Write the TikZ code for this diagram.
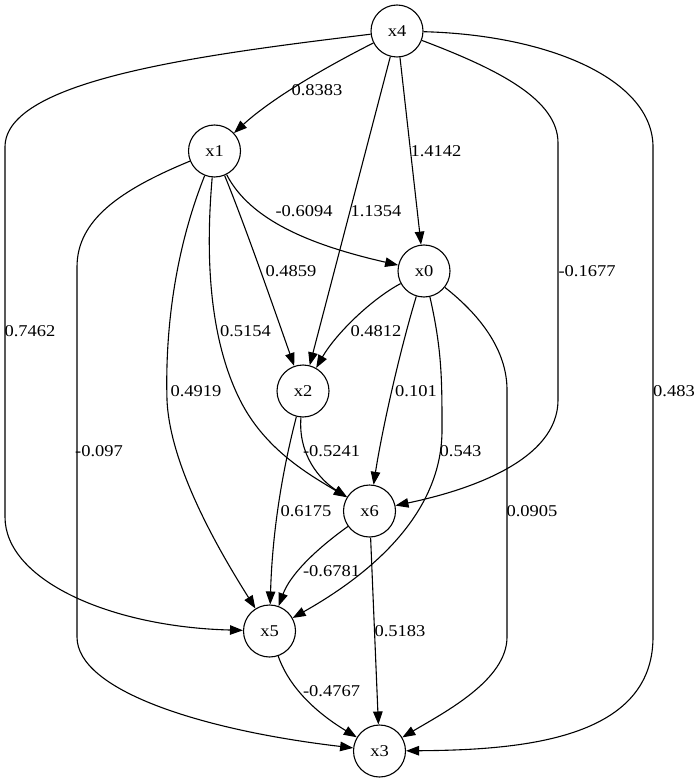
\documentclass[tikz,border=0pt]{standalone}
\usepackage{fontspec}
\setmainfont{Liberation Serif}[FakeStretch=1.12]
\usetikzlibrary{arrows.meta}
\begin{document}
\begin{tikzpicture}[x=1pt,y=-1pt,
  var/.style={circle,draw,line width=1.1pt,minimum size=52pt,inner sep=0pt,
              font=\fontsize{16.5}{18}\selectfont},
  wt/.style={inner sep=0pt,font=\fontsize{16.5}{18}\selectfont},
  link/.style={line width=1.1pt,-{Triangle[length=13pt,width=9.5pt]}}]
\useasboundingbox (0,0) rectangle (700,783);

% variables
\node[var] (x4) at (397,31)    {x4};
\node[var] (x1) at (214.5,151) {x1};
\node[var] (x0) at (424,271)   {x0};
\node[var] (x2) at (303,391)   {x2};
\node[var] (x6) at (369.5,511) {x6};
\node[var] (x5) at (269.5,631) {x5};
\node[var] (x3) at (379.5,751) {x3};

% edges out of x4
\draw[link] (x4) .. controls (320,70) and (270,100) .. (x1);
\draw[link] (x4) -- (x0);
\draw[link] (x4) -- (x2);
\draw[link] (x4) .. controls (500,70) and (558,100) .. (558,143)
            -- (558,400) .. controls (558,460) and (470,490) .. (x6);
\draw[link] (x4) .. controls (200,55) and (5,80) .. (5,147)
            -- (5,517) .. controls (5,580) and (110,627) .. (x5);
\draw[link] (x4) .. controls (550,35) and (653,80) .. (653,147)
            -- (653,637) .. controls (653,740) and (520,750) .. (x3);

% edges out of x1
\draw[link] (x1) .. controls (250,220) and (310,245) .. (x0);
\draw[link] (x1) .. controls (245,225) and (278,320) .. (x2);
\draw[link] (x1) .. controls (205,260) and (210,340) .. (240,400)
            .. controls (265,450) and (310,475) .. (x6);
\draw[link] (x1) .. controls (175,250) and (165,330) .. (167,400)
            .. controls (170,470) and (225,560) .. (x5);
\draw[link] (x1) .. controls (120,190) and (77,220) .. (77,267)
            -- (77,637) .. controls (77,690) and (200,730) .. (x3);

% edges out of x0
\draw[link] (x0) .. controls (370,300) and (335,335) .. (x2);
\draw[link] (x0) .. controls (400,350) and (382,430) .. (x6);
\draw[link] (x0) .. controls (442,350) and (442,380) .. (442,430)
            .. controls (442,520) and (360,580) .. (x5);
\draw[link] (x0) .. controls (480,315) and (507,350) .. (507,390)
            -- (507,637) .. controls (507,680) and (445,712) .. (x3);

% remaining edges
\draw[link] (x2) .. controls (298,455) and (320,480) .. (x6);
\draw[link] (x2) .. controls (280,480) and (272,540) .. (x5);
\draw[link] (x6) .. controls (315,550) and (290,575) .. (x5);
\draw[link] (x6) -- (x3);
\draw[link] (x5) .. controls (290,690) and (320,715) .. (x3);

% edge weights
\node[wt] (l41) at (317,90)    {0.8383};
\node[wt] (l40) at (436,151)   {1.4142};
\node[wt] (l42) at (376,211)   {1.1354};
\node[wt] (l46) at (587,271)   {-0.1677};
\node[wt] (l45) at (30,331)    {0.7462};
\node[wt] (l43) at (674,391)   {0.483};
\node[wt] (l10) at (304,211)   {-0.6094};
\node[wt] (l12) at (291,271)   {0.4859};
\node[wt] (l16) at (245.5,331) {0.5154};
\node[wt] (l15) at (196,391)   {0.4919};
\node[wt] (l13) at (99,451)    {-0.097};
\node[wt] (l02) at (376,331)   {0.4812};
\node[wt] (l06) at (416,391)   {0.101};
\node[wt] (l05) at (460.5,451) {0.543};
\node[wt] (l03) at (532,511)   {0.0905};
\node[wt] (l26) at (331.5,451) {-0.5241};
\node[wt] (l25) at (306,511)   {0.6175};
\node[wt] (l65) at (331.5,571) {-0.6781};
\node[wt] (l63) at (400,631)   {0.5183};
\node[wt] (l53) at (331.5,691) {-0.4767};
\end{tikzpicture}
\end{document}
